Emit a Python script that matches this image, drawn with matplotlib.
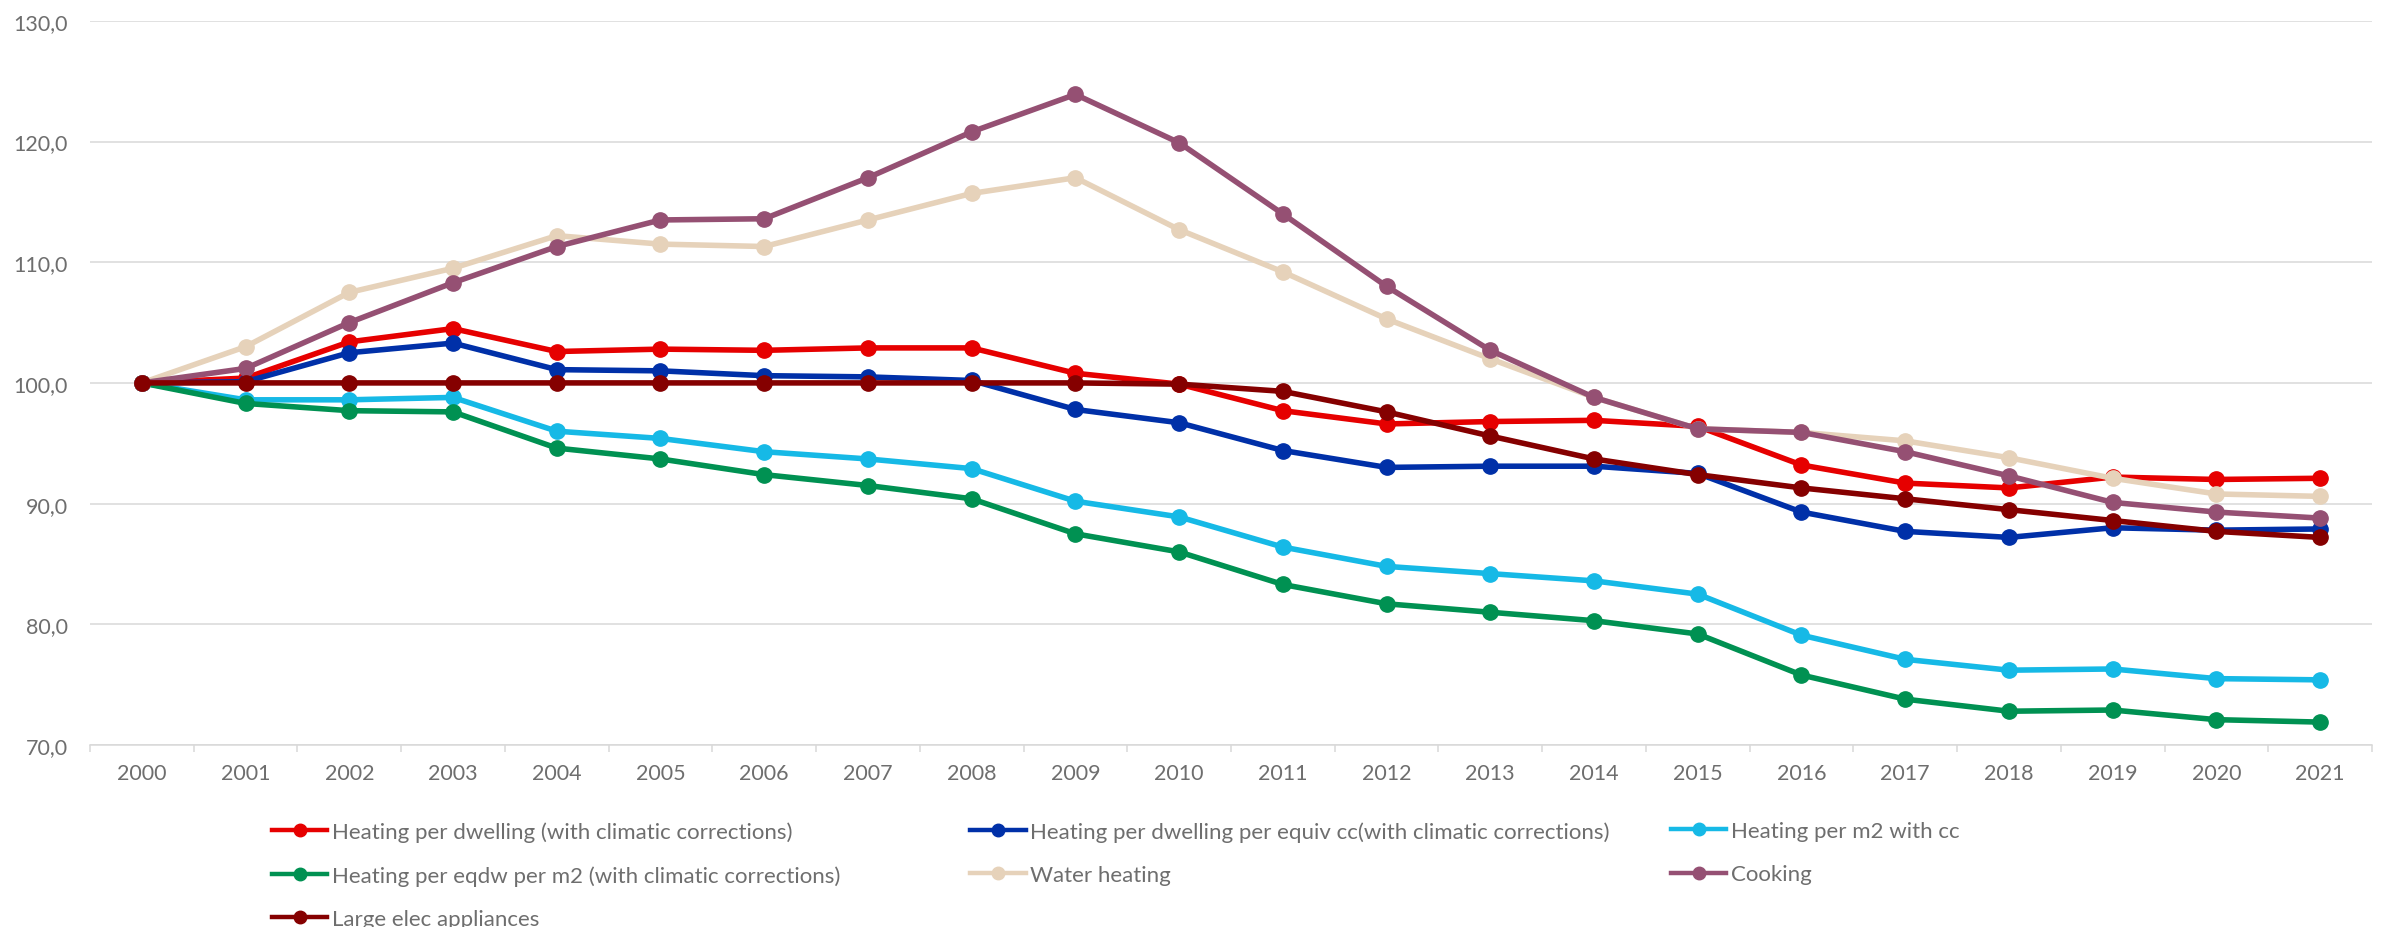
import matplotlib
matplotlib.use('Agg')
from matplotlib import pyplot as plt
from matplotlib.ticker import FuncFormatter, MultipleLocator
import numpy as np

years = [str(y) for y in range(2000, 2022)]

heating_dwelling = [100.0, 100.4, 103.4, 104.5, 102.6, 102.8, 102.7, 102.9, 102.9, 100.8, 99.9,
                    97.7, 96.6, 96.8, 96.9, 96.4, 93.2, 91.7, 91.3, 92.2, 92.0, 92.1]
heating_dwelling_equiv = [100.0, 100.1, 102.5, 103.3, 101.1, 101.0, 100.6, 100.5, 100.2, 97.8, 96.7,
                          94.4, 93.0, 93.1, 93.1, 92.5, 89.3, 87.7, 87.2, 88.0, 87.8, 87.9]
heating_m2 = [100.0, 98.6, 98.6, 98.8, 96.0, 95.4, 94.3, 93.7, 92.9, 90.2, 88.9,
              86.4, 84.8, 84.2, 83.6, 82.5, 79.1, 77.1, 76.2, 76.3, 75.5, 75.4]
heating_eqdw_m2 = [100.0, 98.3, 97.7, 97.6, 94.6, 93.7, 92.4, 91.5, 90.4, 87.5, 86.0,
                   83.3, 81.7, 81.0, 80.3, 79.2, 75.8, 73.8, 72.8, 72.9, 72.1, 71.9]
water_heating = [100.0, 103.0, 107.5, 109.5, 112.2, 111.5, 111.3, 113.5, 115.7, 117.0, 112.7,
                 109.2, 105.3, 102.0, 98.8, 96.2, 95.9, 95.2, 93.8, 92.1, 90.8, 90.6]
cooking = [100.0, 101.2, 105.0, 108.3, 111.3, 113.5, 113.6, 117.0, 120.8, 123.9, 119.9,
           114.0, 108.0, 102.7, 98.8, 96.2, 95.9, 94.3, 92.3, 90.1, 89.3, 88.8]
large_appliances = [100.0, 100.0, 100.0, 100.0, 100.0, 100.0, 100.0, 100.0, 100.0, 100.0, 99.9,
                    99.3, 97.6, 95.6, 93.7, 92.4, 91.3, 90.4, 89.5, 88.6, 87.7, 87.2]

series = [
    ('Heating per dwelling (with climatic corrections)', heating_dwelling, '#E60000'),
    ('Heating per dwelling per equiv cc(with climatic corrections)', heating_dwelling_equiv, '#0030A8'),
    ('Heating per m2 with cc', heating_m2, '#16B9E6'),
    ('Heating per eqdw per m2 (with climatic corrections)', heating_eqdw_m2, '#009152'),
    ('Water heating', water_heating, '#E6D2BA'),
    ('Cooking', cooking, '#955073'),
    ('Large elec appliances', large_appliances, '#850000'),
]

text_grey = '#6E6E6E'
grid_grey = '#D9D9D9'

plt.rcParams['font.family'] = ['Lato', 'DejaVu Sans']

fig = plt.figure(figsize=(23.87, 9.28), dpi=100)
ax = fig.add_axes([0.0377, 0.1961, 0.9560, 0.7804])

x = np.arange(len(years))
handles = []
for name, values, color in series:
    h, = ax.plot(x, values, color=color, lw=4, marker='o', markersize=11,
                 solid_joinstyle='round', label=name)
    handles.append(h)

ax.set_xlim(-0.5, len(years) - 0.5)
ax.set_ylim(70, 130)
ax.yaxis.set_major_locator(MultipleLocator(10))
ax.yaxis.set_major_formatter(FuncFormatter(lambda v, p: f'{v:.1f}'.replace('.', ',')))
ax.grid(axis='y', color=grid_grey, lw=1.1)
ax.set_axisbelow(True)

ax.set_xticks(x)
ax.set_xticklabels(years)
ax.set_xticks(np.arange(len(years) + 1) - 0.5, minor=True)
ax.tick_params(axis='x', which='major', length=0, pad=13, labelsize=15.5, labelcolor=text_grey)
ax.tick_params(axis='x', which='minor', length=5, width=1.1, color=grid_grey)
ax.tick_params(axis='y', length=0, pad=16, labelsize=15.5, labelcolor=text_grey)

for side in ['left', 'right', 'top']:
    ax.spines[side].set_visible(False)
ax.spines['bottom'].set_color(grid_grey)
ax.spines['bottom'].set_linewidth(1.1)

# legend laid out as three separate columns
columns = [[0, 3, 6], [1, 4], [2, 5]]
col_x = [0.1139, 0.4064, 0.7000]
for idx, cx in zip(columns, col_x):
    leg = fig.legend([handles[i] for i in idx], [series[i][0] for i in idx],
                     loc='upper left', bbox_to_anchor=(cx, 0.1142), frameon=False,
                     fontsize=16, handlelength=2.5, handletextpad=0.2,
                     labelspacing=1.05, borderpad=0, borderaxespad=0)
    for t in leg.get_texts():
        t.set_color(text_grey)
    for lh in leg.legend_handles:
        lh.set_linewidth(3.2)
        lh.set_markersize(9)

fig.savefig('out.png', dpi=100)
